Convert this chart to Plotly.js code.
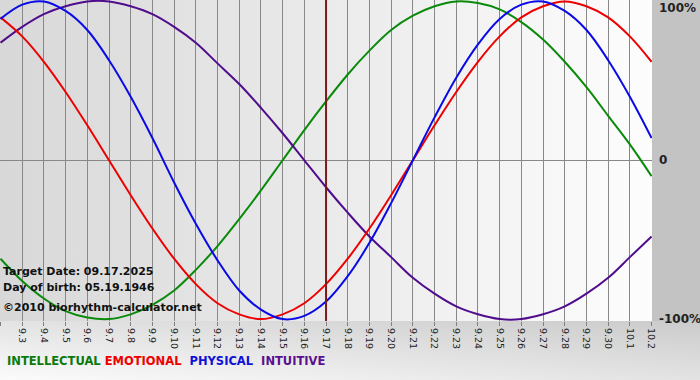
<!DOCTYPE html>
<html>
<head>
<meta charset="utf-8">
<script src="https://cdn.plot.ly/plotly-3.0.1.min.js"></script>
<style>
  html, body { margin:0; padding:0; background:#ffffff; }
  #chart {
    width:700px; height:380px;
    background:
      linear-gradient(to right, #d8d8d8, #fdfdfd) 0 0 / 652px 321px no-repeat,
      linear-gradient(#c3c3c3, #c3c3c3) 652px 0 / 48px 321px no-repeat,
      linear-gradient(to top right, #fbfbfb, #cbcbcb) 0 321px / 700px 59px no-repeat;
  }
</style>
</head>
<body>
<div id="chart"></div>
<script>
// Day labels (Sep 2 .. Oct 2)
const days = ["9.2","9.3","9.4","9.5","9.6","9.7","9.8","9.9","9.10","9.11","9.12","9.13","9.14","9.15","9.16","9.17",
  "9.18","9.19","9.20","9.21","9.22","9.23","9.24","9.25","9.26","9.27","9.28","9.29","9.30","10.1","10.2"];

// Series values (fraction of 100%), one per day
const intellectual = [-0.62,-0.76,-0.87,-0.95,-0.99,-1.00,-0.97,-0.91,-0.82,-0.69,-0.54,-0.37,-0.19,0.00,0.19,0.37,
  0.54,0.69,0.82,0.91,0.97,1.00,0.99,0.95,0.87,0.76,0.62,0.46,0.28,0.10,-0.10];
const emotional = [0.90,0.78,0.62,0.43,0.22,0.00,-0.22,-0.43,-0.62,-0.78,-0.90,-0.97,-1.00,-0.97,-0.90,-0.78,
  -0.62,-0.43,-0.22,0.00,0.22,0.43,0.62,0.78,0.90,0.97,1.00,0.97,0.90,0.78,0.62];
const physical = [0.89,0.98,1.00,0.94,0.82,0.63,0.40,0.14,-0.14,-0.40,-0.63,-0.82,-0.94,-1.00,-0.98,-0.89,
  -0.73,-0.52,-0.27,0.00,0.27,0.52,0.73,0.89,0.98,1.00,0.94,0.82,0.63,0.40,0.14];
const intuitive = [0.74,0.84,0.92,0.97,1.00,1.00,0.97,0.92,0.84,0.74,0.61,0.48,0.33,0.17,0.00,-0.17,
  -0.33,-0.48,-0.61,-0.74,-0.84,-0.92,-0.97,-1.00,-1.00,-0.97,-0.92,-0.84,-0.74,-0.61,-0.48];

const targetIndex = 15; // 9.17
const yTickVals = [-1, 0, 1];
const yTickText = ["-100%", "0", "100%"];

const xs = days.map((d, i) => i);

function line(y, color) {
  return { x: xs, y: y, type: 'scatter', mode: 'lines',
    line: { color: color, width: 2, shape: 'spline', smoothing: 1 },
    hoverinfo: 'skip', showlegend: false };
}

const data = [
  line(intellectual, '#0a8a0a'),
  line(intuitive, '#4f0c8c'),
  line(emotional, '#ee0000'),
  line(physical, '#0a0ae6')
];

const fontB = 'DejaVu Sans, Verdana, sans-serif';

const yLabelAnnotations = yTickVals.map((v, i) => ({
  xref: 'paper', yref: 'y', x: 1, y: v, xanchor: 'left',
  yanchor: v > 0 ? 'top' : 'middle', yshift: v > 0 ? 2 : 0, xshift: 5,
  text: '<b>' + yTickText[i] + '</b>', showarrow: false,
  font: { family: fontB, size: 12, color: '#222222' }
}));

const layout = {
  width: 700, height: 380,
  margin: { l: 0, r: 48, t: 0, b: 59, pad: 0 },
  paper_bgcolor: 'rgba(0,0,0,0)',
  plot_bgcolor: 'rgba(0,0,0,0)',
  showlegend: false,
  xaxis: {
    range: [-0.023, 30.02],
    tickvals: xs, ticktext: days,
    tickangle: 90,
    ticks: 'outside', ticklen: 4, tickcolor: '#808080', tickwidth: 1,
    showgrid: true, gridcolor: '#888888', gridwidth: 1,
    zeroline: false, showline: false,
    tickfont: { family: fontB, size: 9.5, color: '#222222' },
    fixedrange: true
  },
  yaxis: {
    range: [-1.012, 1.009],
    tickvals: yTickVals,
    showticklabels: false,
    ticks: '', showgrid: false,
    zeroline: true, zerolinecolor: '#888888', zerolinewidth: 1,
    showline: false,
    fixedrange: true
  },
  shapes: [
    { type: 'line', xref: 'x', yref: 'paper', x0: targetIndex, x1: targetIndex, y0: 0, y1: 1,
      line: { color: '#7a1c1c', width: 2 } }
  ],
  annotations: yLabelAnnotations.concat([
    { xref: 'paper', yref: 'paper', x: 0.002, y: (321-271)/321, xanchor: 'left', yanchor: 'middle',
      text: '<b>Target Date: 09.17.2025</b>', showarrow: false,
      font: { family: fontB, size: 11, color: '#111111' } },
    { xref: 'paper', yref: 'paper', x: 0.002, y: (321-287)/321, xanchor: 'left', yanchor: 'middle',
      text: '<b>Day of birth: 05.19.1946</b>', showarrow: false,
      font: { family: fontB, size: 11, color: '#111111' } },
    { xref: 'paper', yref: 'paper', x: 0.002, y: (321-307)/321, xanchor: 'left', yanchor: 'middle',
      text: '<b>©2010 biorhythm-calculator.net</b>', showarrow: false,
      font: { family: fontB, size: 11, color: '#111111' } },
    { xref: 'paper', yref: 'paper', x: 5/652, y: -(361-321)/321, xanchor: 'left', yanchor: 'middle',
      text: '<b><span style="color:#0a7a0a">INTELLECTUAL</span> <span style="color:#ee0000">EMOTIONAL</span>  <span style="color:#1010d8">PHYSICAL</span>  <span style="color:#5a1090">INTUITIVE</span></b>',
      showarrow: false,
      font: { family: fontB, size: 11.5, color: '#111111' } }
  ])
};

Plotly.newPlot('chart', data, layout, { displayModeBar: false, staticPlot: true });
</script>
</body>
</html>
